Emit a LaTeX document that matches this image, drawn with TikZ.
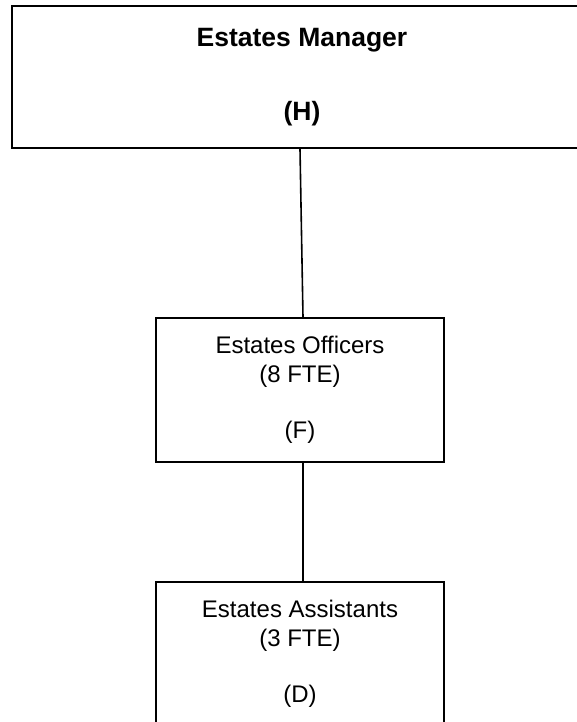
\documentclass[tikz,border=0pt]{standalone}
\usepackage{fontspec}
\setmainfont{Liberation Sans}
\usetikzlibrary{positioning}

\begin{document}
\begin{tikzpicture}[
  x=1pt, y=-1pt,
  every node/.style={font=\fontsize{24}{29}\selectfont},
  head/.style={draw, line width=1.6pt, align=center, minimum width=580pt, minimum height=142.5pt, font=\fontsize{26.5}{37}\selectfont\bfseries},
  staff/.style={draw, line width=1.6pt, align=center, minimum width=288pt, minimum height=144pt}
]
\useasboundingbox (0,0) rectangle (576,722);
\node[head] (manager) at (302,77) {Estates Manager\\[37pt](H)};
\node[staff] (officers) at (300,390) {Estates Officers\\(8 FTE)\\[27pt](F)};
\node[staff] (assistants) at (300,654) {Estates Assistants\\(3 FTE)\\[27pt](D)};
\draw[line width=1.6pt] ([xshift=-2pt]manager.south) -- ([xshift=3pt]officers.north);
\draw[line width=1.6pt] ([xshift=3pt]officers.south) -- ([xshift=3pt]assistants.north);
\end{tikzpicture}
\end{document}
